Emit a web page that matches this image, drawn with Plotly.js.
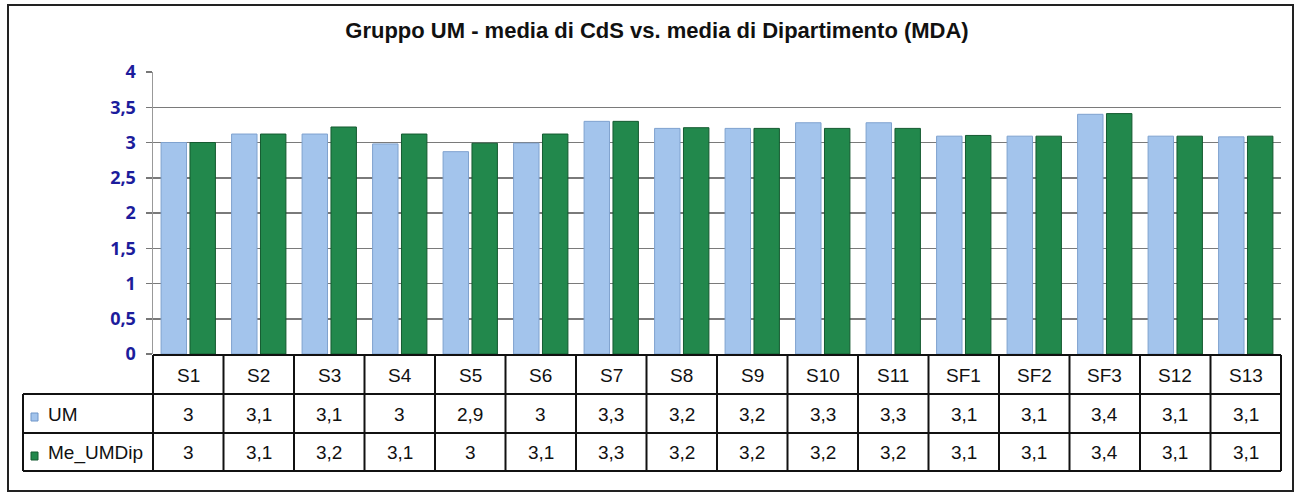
<!DOCTYPE html>
<html>
<head>
<meta charset="utf-8">
<script src="https://cdn.plot.ly/plotly-3.0.1.min.js"></script>
<style>html,body{margin:0;padding:0;background:#fff;}#chart{width:1300px;height:493px;}</style>
</head>
<body>
<div id="chart"></div>
<script>
const categories = ["S1","S2","S3","S4","S5","S6","S7","S8","S9","S10","S11","SF1","SF2","SF3","S12","S13"];
const seriesNames = ["UM","Me_UMDip"];
const umValues = [3.0,3.12,3.12,2.98,2.87,2.99,3.3,3.2,3.2,3.28,3.28,3.09,3.09,3.4,3.09,3.08];
const meValues = [3.0,3.12,3.22,3.12,2.99,3.12,3.3,3.21,3.2,3.2,3.2,3.1,3.09,3.41,3.09,3.09];
const yTicks = [0,0.5,1,1.5,2,2.5,3,3.5,4];
const titleText = "Gruppo UM - media di CdS vs. media di Dipartimento (MDA)";

const blue = "#a3c4ec", green = "#22884c";
const W = 1300, H = 493;
const L = 153, R = 1281, T = 72, B = 354;
const pw = R - L, ph = B - T;
const px = v => (v - L) / pw;
const py = v => (B - v) / ph;

function fmt(v){ let s = v.toFixed(1); if (s.endsWith(".0")) s = s.slice(0,-2); return s.replace(".", ","); }

const traces = [
  {type:"bar", name:seriesNames[0], x:categories, y:umValues, marker:{color:blue, line:{color:"#7fa2cf", width:1}}, hoverinfo:"x+y"},
  {type:"bar", name:seriesNames[1], x:categories, y:meValues, marker:{color:green, line:{color:"#145a30", width:1}}, hoverinfo:"x+y"}
];

const shapes = [];
const annotations = [];
const lineStyle = {color:"#111", width:2};
// outer frame
shapes.push({type:"rect", xref:"paper", yref:"paper", x0:px(8), x1:px(1293), y0:py(5), y1:py(491), line:{color:"#222", width:2}});
// horizontal table lines
shapes.push({type:"line", xref:"paper", yref:"paper", x0:0, x1:1, y0:py(355), y1:py(355), line:lineStyle});
[394,433,471].forEach(v => shapes.push({type:"line", xref:"paper", yref:"paper", x0:px(23), x1:1, y0:py(v), y1:py(v), line:lineStyle}));
// vertical lines
shapes.push({type:"line", xref:"paper", yref:"paper", x0:px(23), x1:px(23), y0:py(394), y1:py(471), line:lineStyle});
shapes.push({type:"line", xref:"paper", yref:"paper", x0:0, x1:0, y0:py(355), y1:py(471), line:lineStyle});
shapes.push({type:"line", xref:"paper", yref:"paper", x0:1, x1:1, y0:py(355), y1:py(471), line:lineStyle});
for (let i = 1; i < categories.length; i++) {
  shapes.push({type:"line", xref:"paper", yref:"paper", x0:i/categories.length, x1:i/categories.length, y0:py(355), y1:py(471), line:lineStyle});
}
// legend swatches
shapes.push({type:"rect", xref:"paper", yref:"paper", x0:px(31), x1:px(38), y0:py(413), y1:py(421), fillcolor:blue, line:{color:"#6f95c8", width:1}});
shapes.push({type:"rect", xref:"paper", yref:"paper", x0:px(31), x1:px(38), y0:py(452), y1:py(460), fillcolor:green, line:{color:"#145a30", width:1}});

const tFont = {family:"Liberation Sans, Arial, sans-serif", size:19, color:"#111"};
annotations.push({xref:"paper", yref:"paper", x:px(46), y:py(414), text:seriesNames[0], showarrow:false, xanchor:"left", yanchor:"middle", font:tFont});
annotations.push({xref:"paper", yref:"paper", x:px(46), y:py(452.5), text:seriesNames[1], showarrow:false, xanchor:"left", yanchor:"middle", font:tFont});
categories.forEach((c, i) => {
  annotations.push({xref:"x", yref:"paper", x:c, y:py(375), text:c, showarrow:false, yanchor:"middle", font:tFont});
  annotations.push({xref:"x", yref:"paper", x:c, y:py(414), text:fmt(umValues[i]), showarrow:false, yanchor:"middle", font:tFont});
  annotations.push({xref:"x", yref:"paper", x:c, y:py(452.5), text:fmt(meValues[i]), showarrow:false, yanchor:"middle", font:tFont});
});

const layout = {
  width:W, height:H,
  margin:{l:L, r:W-R, t:T, b:H-B, pad:0},
  paper_bgcolor:"#fff", plot_bgcolor:"#fff",
  separators:", ",
  showlegend:false,
  barmode:"group", bargap:0.18, bargroupgap:0.12,
  title:{text:titleText, xref:"container", x:657/W, xanchor:"center", yref:"container", y:1-30/H, yanchor:"middle", font:{family:"Liberation Sans, Arial, sans-serif", size:22, weight:"bold", color:"#111"}},
  xaxis:{type:"category", showticklabels:false, ticks:"", showgrid:false, zeroline:false, showline:false, fixedrange:true},
  yaxis:{range:[0,4], tickvals:yTicks, ticks:"outside", ticklen:6, tickcolor:"#777", tickwidth:1.5,
         showgrid:true, gridcolor:"#7a7a7a", gridwidth:1.5, zeroline:false, showline:true, linecolor:"#999", linewidth:1.5,
         ticklabelstandoff:6,
         tickfont:{family:"Open Sans, Lato, sans-serif", size:18, weight:"bold", color:"#1c1c9c"}, fixedrange:true},
  shapes:shapes, annotations:annotations
};
Plotly.newPlot("chart", traces, layout, {displayModeBar:false, staticPlot:true});
</script>
</body>
</html>
